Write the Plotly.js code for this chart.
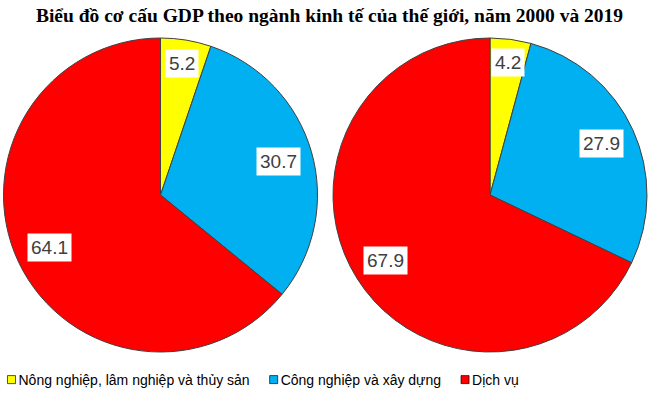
<!DOCTYPE html>
<html>
<head>
<meta charset="utf-8">
<script src="https://cdn.plot.ly/plotly-3.0.1.min.js"></script>
<style>html,body{margin:0;padding:0;background:#fff;}#chart{width:659px;height:396px;}</style>
</head>
<body>
<div id="chart"></div>
<script>
const categories = ["Nông nghiệp, lâm nghiệp và thủy sản", "Công nghiệp và xây dựng", "Dịch vụ"];
const values2000 = [5.2, 30.7, 64.1];
const values2019 = [4.2, 27.9, 67.9];
const years = ["2000", "2019"];
const titleText = "Biểu đồ cơ cấu GDP theo ngành kinh tế của thế giới, năm 2000 và 2019";

const W = 659, H = 396;
const colors = ["#FFFF00", "#00B0F0", "#FF0000"];
const domains = [
  {x: [3.5 / W, 317.5 / W], y: [44 / H, 358 / H]},
  {x: [333 / W, 647 / W], y: [44 / H, 358 / H]}
];
const labelR = [0.85, 0.78, 0.785];
const series = [values2000, values2019];

const traces = series.map((vals, i) => ({
  type: "pie",
  name: years[i],
  labels: categories,
  values: vals,
  sort: false,
  direction: "clockwise",
  rotation: 0,
  textinfo: "none",
  hoverinfo: "label+value",
  marker: {colors: colors, line: {color: "#404040", width: 1}},
  domain: domains[i],
  showlegend: i === 0
}));

const annotations = [];
series.forEach((vals, i) => {
  const d = domains[i];
  const cx = (d.x[0] + d.x[1]) / 2 * W;
  const cyUp = (d.y[0] + d.y[1]) / 2 * H;
  const R = Math.min((d.x[1] - d.x[0]) * W, (d.y[1] - d.y[0]) * H) / 2;
  const total = vals.reduce((a, b) => a + b, 0);
  let cum = 0;
  vals.forEach((v, j) => {
    const mid = (cum + v / 2) / total * 2 * Math.PI;
    cum += v;
    const r = R * labelR[j];
    const px = cx + r * Math.sin(mid);
    const py = cyUp + r * Math.cos(mid);
    annotations.push({
      xref: "paper", yref: "paper",
      x: px / W, y: py / H,
      xanchor: "center", yanchor: "middle",
      text: v.toFixed(1),
      showarrow: false,
      bgcolor: "#FFFFFF",
      borderpad: 3,
      font: {family: "Liberation Sans, Arial, sans-serif", size: 19, color: "#404040"}
    });
  });
});

const layout = {
  width: W, height: H,
  margin: {l: 0, r: 0, t: 0, b: 0, autoexpand: false},
  paper_bgcolor: "#FFFFFF",
  title: {
    text: "<b>" + titleText + "</b>",
    font: {family: "Liberation Serif, Times New Roman, serif", size: 19.5, color: "#000000"},
    x: 0.5, xanchor: "center",
    y: 1 - 15 / H, yanchor: "middle", yref: "container"
  },
  showlegend: true,
  legend: {
    orientation: "h",
    x: 0, xanchor: "left",
    y: (H - 380) / H, yanchor: "middle",
    font: {family: "Liberation Sans, Arial, sans-serif", size: 14, color: "#000000"},
    itemwidth: 30,
    traceorder: "normal"
  },
  annotations: annotations
};

Plotly.newPlot("chart", traces, layout, {displayModeBar: false, staticPlot: true}).then(() => {
  // tighten legend: smaller square symbols, text closer to symbols
  const groups = Array.from(document.querySelectorAll(".legend .traces"));
  let start = null;
  groups.forEach((g, i) => {
    const m = /translate\(([-\d.]+)[ ,]+([-\d.]+)\)/.exec(g.getAttribute("transform") || "");
    const ty = m ? parseFloat(m[2]) : 0;
    if (start === null) start = (m ? parseFloat(m[1]) : 0) - 8.5;
    g.setAttribute("transform", "translate(" + start + "," + ty + ")");
    const pts = g.querySelectorAll(".legendpoints path");
    pts.forEach(p => {
      const t = p.getAttribute("transform") || "";
      p.setAttribute("transform", t + " scale(0.67)");
      p.style.strokeWidth = "1px";
      p.style.stroke = "#000";
    });
    const txt = g.querySelector("text.legendtext");
    let tw = 0;
    if (txt) {
      txt.setAttribute("x", "27");
      tw = txt.getComputedTextLength();
    }
    start += tw + 31;
  });
});
</script>
</body>
</html>
